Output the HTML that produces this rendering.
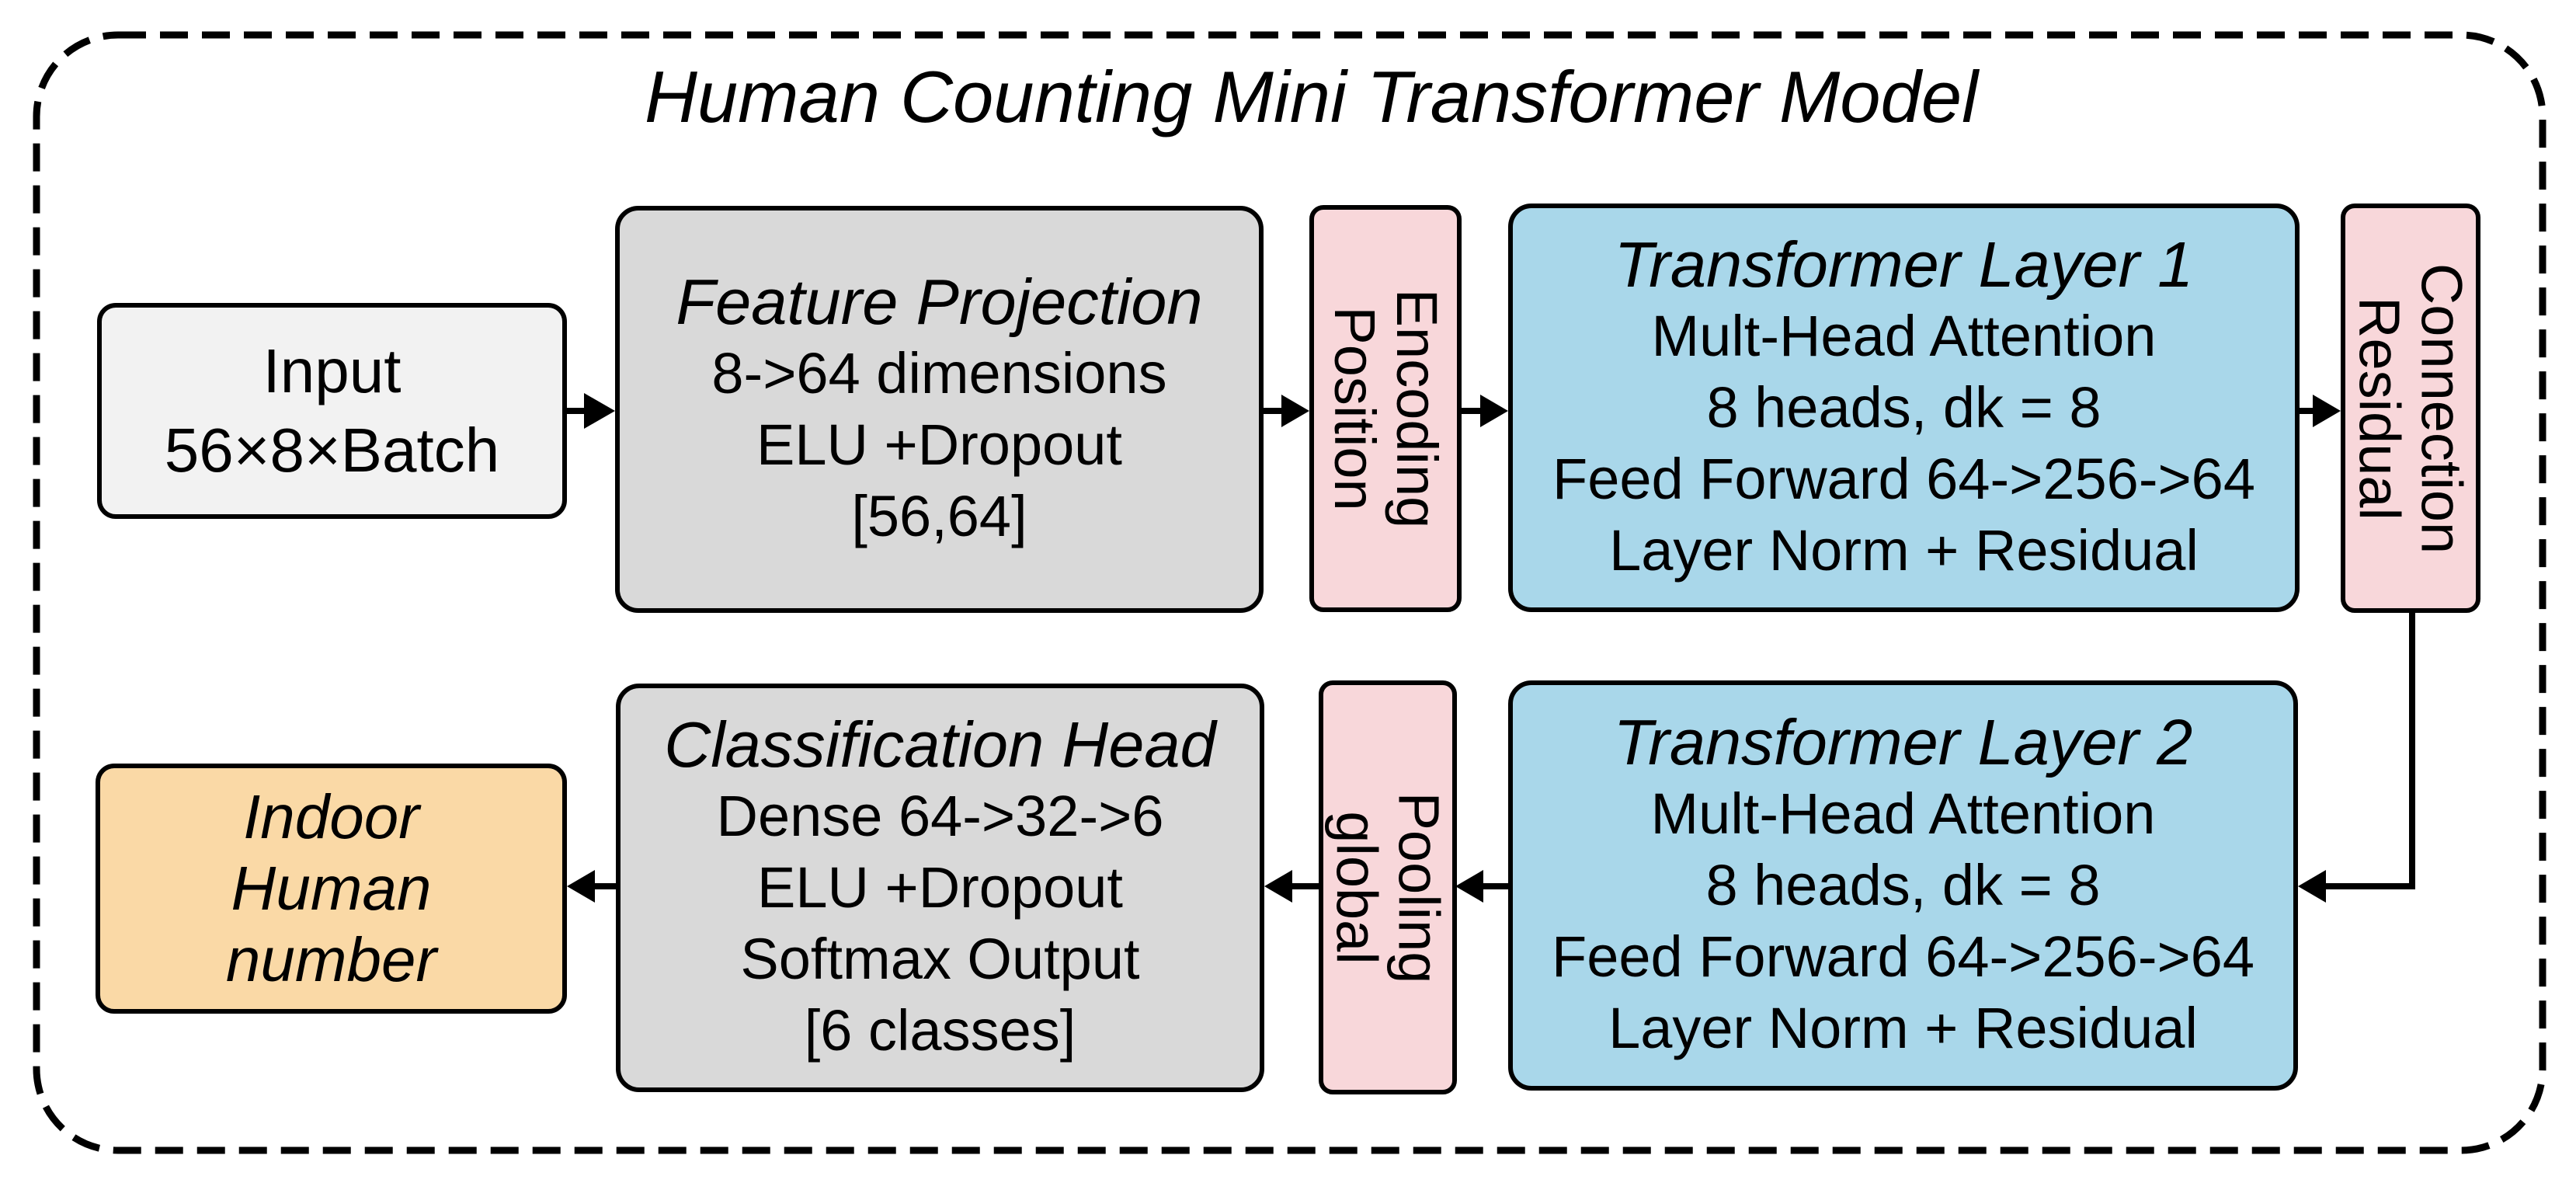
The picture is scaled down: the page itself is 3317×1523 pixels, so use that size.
<!DOCTYPE html>
<html><head><meta charset="utf-8"><style>
body{margin:0;width:3317px;height:1523px;background:#fff;position:relative;overflow:hidden;font-family:"Liberation Sans",Arial,sans-serif;color:#000}
.b{position:absolute;box-sizing:border-box;border:6px solid #000;border-radius:30px;display:flex;flex-direction:column;align-items:center;justify-content:center;text-align:center;font-size:74px;line-height:92px}
.t{font-style:italic;font-size:83px}
.v{position:absolute;display:flex;align-items:center;justify-content:center;text-align:center;font-size:74px;line-height:80px;transform:rotate(90deg);white-space:nowrap}
</style></head><body>
<svg width="3317" height="1523" style="position:absolute;left:0;top:0">
<rect x="47" y="45" width="3227" height="1436" rx="105" ry="105" fill="none" stroke="#000" stroke-width="9" stroke-dasharray="36 18"/>
<g stroke="#000" stroke-width="8" fill="none">
<line x1="730" y1="529" x2="760" y2="529"/>
<line x1="1627" y1="529" x2="1656" y2="529"/>
<line x1="1882" y1="529" x2="1912" y2="529"/>
<line x1="2961" y1="529" x2="2984" y2="529"/>
<polyline points="3106,789 3106,1141 2990,1141"/>
<line x1="1942" y1="1141" x2="1905" y2="1141"/>
<line x1="1698" y1="1141" x2="1660" y2="1141"/>
<line x1="793" y1="1141" x2="762" y2="1141"/>
</g>
<g fill="#000">
<polygon points="792,529 752,506 752,552"/>
<polygon points="1686,529 1650,508 1650,550"/>
<polygon points="1942,529 1906,508 1906,550"/>
<polygon points="3014,529 2978,508 2978,550"/>
<polygon points="2959,1141 2995,1120 2995,1162"/>
<polygon points="1874,1141 1910,1120 1910,1162"/>
<polygon points="1628,1141 1664,1120 1664,1162"/>
<polygon points="730,1141 766,1120 766,1162"/>
</g>
</svg>
<div style="position:absolute;left:0;width:3317px;top:70px;text-align:center;font-style:italic;font-size:94px;line-height:110px;padding-left:60px;box-sizing:border-box">Human Counting Mini Transformer Model</div>

<div class="b" style="left:125px;top:390px;width:605px;height:278px;background:#f2f2f2;border-radius:24px;font-size:80px;line-height:102px"><div>Input</div><div>56×8×Batch</div></div>
<div class="b" style="left:792px;top:265px;width:835px;height:524px;background:#d9d9d9"><div class="t">Feature Projection</div><div>8-&gt;64 dimensions</div><div>ELU +Dropout</div><div>[56,64]</div></div>
<div class="b" style="left:1686px;top:264px;width:196px;height:524px;background:#f8d7da;border-radius:18px"></div>
<div class="v" style="left:1522px;top:428px;width:524px;height:196px"><div>Encoding<br>Position</div></div>
<div class="b" style="left:1942px;top:262px;width:1019px;height:526px;background:#a9d7ea"><div class="t">Transformer Layer 1</div><div>Mult-Head Attention</div><div>8 heads, dk = 8</div><div>Feed Forward 64-&gt;256-&gt;64</div><div>Layer Norm + Residual</div></div>
<div class="b" style="left:3014px;top:262px;width:180px;height:527px;background:#f8d7da;border-radius:18px"></div>
<div class="v" style="left:2840px;top:436px;width:527px;height:180px"><div>Connection<br>Residual</div></div>

<div class="b" style="left:123px;top:983px;width:607px;height:322px;background:#fad9a6;border-radius:24px;font-style:italic;font-size:80px;line-height:92px"><div>Indoor</div><div>Human</div><div>number</div></div>
<div class="b" style="left:793px;top:880px;width:835px;height:526px;background:#d9d9d9"><div class="t">Classification Head</div><div>Dense 64-&gt;32-&gt;6</div><div>ELU +Dropout</div><div>Softmax Output</div><div>[6 classes]</div></div>
<div class="b" style="left:1698px;top:876px;width:178px;height:533px;background:#f8d7da;border-radius:18px"></div>
<div class="v" style="left:1520px;top:1054px;width:533px;height:178px"><div>Pooling<br>global</div></div>
<div class="b" style="left:1942px;top:876px;width:1017px;height:528px;background:#a9d7ea"><div class="t">Transformer Layer 2</div><div>Mult-Head Attention</div><div>8 heads, dk = 8</div><div>Feed Forward 64-&gt;256-&gt;64</div><div>Layer Norm + Residual</div></div>
</body></html>
